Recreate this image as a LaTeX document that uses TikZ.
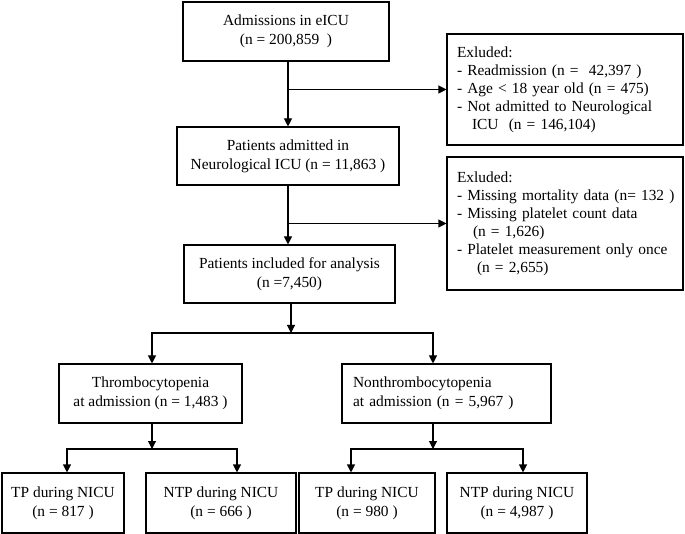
\documentclass[tikz,border=0pt]{standalone}
\usepackage{fontspec}
\setmainfont{Liberation Serif}
\usetikzlibrary{arrows.meta,calc}
\begin{document}
\begin{tikzpicture}[x=1pt,y=-1pt,
  box/.style={draw=black, line width=1.1pt, inner sep=0pt, align=center, font=\fontsize{15.4}{19}\selectfont},
  exbox/.style={draw=black, line width=1.1pt, inner xsep=10pt, inner ysep=0pt, align=left, font=\fontsize{15.4}{18}\selectfont},
  arr/.style={line width=1.1pt, -{Triangle[length=8pt,width=8pt]}},
  ln/.style={line width=1.1pt}]
\useasboundingbox[fill=white] (0,0) rectangle (685,534);

% main column
\node[box, minimum width=206pt, minimum height=59pt] (adm) at (286,31.5) {Admissions in eICU\\(n = 200,859 \ )};
\node[box, minimum width=222pt, minimum height=58pt] (neu) at (288,156) {Patients admitted in\\Neurological ICU (n = 11,863 )};
\node[box, minimum width=211pt, minimum height=58pt] (inc) at (289.5,274) {Patients included for analysis\\(n =7,450)};

% excluded boxes
\node[exbox, text width=216pt, minimum width=236pt, minimum height=111pt] (ex1) at (565,89.5)
  {Exluded:\\\mbox{- Readmission (n = \ 42,397 )}\\\mbox{- Age < 18 year old (n = 475)}\\\mbox{- Not admitted to Neurological}\\\hspace*{15pt}\mbox{ICU \ (n = 146,104)}};
\node[exbox, text width=216pt, minimum width=236pt, minimum height=133pt] (ex2) at (565,223.5)
  {Exluded:\\\mbox{- Missing mortality data (n= 132 )}\\\mbox{- Missing platelet count data}\\\hspace*{16pt}(n = 1,626)\\\mbox{- Platelet measurement only once}\\\hspace*{20pt}(n = 2,655)};

% second level
\node[box, minimum width=183pt, minimum height=59pt] (th) at (150.5,393.5) {Thrombocytopenia\\at admission (n = 1,483 )};
\node[box, align=left, text width=187pt, inner xsep=11pt, minimum width=209pt, minimum height=59pt] (nt) at (446.5,393.5) {Nonthrombocytopenia\\at admission (n = 5,967 )};

% bottom row
\node[box, minimum width=122pt, minimum height=60pt] (tp1) at (63,503) {TP during NICU\\(n = 817 )};
\node[box, minimum width=150pt, minimum height=60pt] (ntp1) at (221,503) {NTP during NICU\\(n = 666 )};
\node[box, minimum width=136pt, minimum height=60pt] (tp2) at (367,503) {TP during NICU\\(n = 980 )};
\node[box, minimum width=140pt, minimum height=60pt] (ntp2) at (517,503) {NTP during NICU\\(n = 4,987 )};

% connectors top
\draw[arr] (adm.south -| neu.north) -- (neu.north);
\coordinate (j1) at (neu.north |- ex1.west);
\draw[arr] (j1) -- (ex1.west);
\draw[arr] (neu.south) -- (neu.south |- inc.north);
\coordinate (j2) at (neu.south |- ex2.west);
\draw[arr] (j2) -- (ex2.west);

% split from included
\coordinate (s1) at (291,333);
\coordinate (s1l) at (152,333);
\coordinate (s1r) at (433,333);
\draw[arr] (inc.south -| s1) -- (s1);
\draw[arr] (s1) -| (s1l |- th.north);
\draw[arr] (s1) -| (s1r |- nt.north);

% split from thrombocytopenia
\coordinate (s2) at (152,449);
\coordinate (s2l) at (67,449);
\coordinate (s2r) at (237,449);
\draw[arr] (th.south -| s2) -- (s2);
\draw[arr] (s2) -| (s2l |- tp1.north);
\draw[arr] (s2) -| (s2r |- ntp1.north);

% split from nonthrombocytopenia
\coordinate (s3) at (433,449);
\coordinate (s3l) at (351,449);
\coordinate (s3r) at (523,449);
\draw[arr] (nt.south -| s3) -- (s3);
\draw[arr] (s3) -| (s3l |- tp2.north);
\draw[arr] (s3) -| (s3r |- ntp2.north);
\end{tikzpicture}
\end{document}
